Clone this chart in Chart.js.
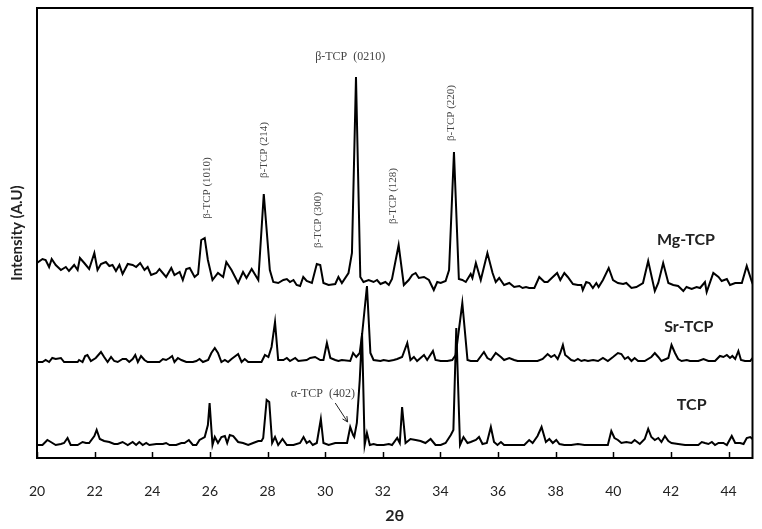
<!DOCTYPE html>
<html>
<head>
<meta charset="utf-8">
<script src="https://cdn.jsdelivr.net/npm/chart.js@4.4.1/dist/chart.umd.min.js"></script>
<style>
  html, body { margin: 0; padding: 0; background: #fff; }
  #wrap { width: 762px; height: 529px; }
</style>
</head>
<body>
<div id="wrap"><canvas id="xrdChart" width="762" height="529"></canvas></div>
<script>
// x in degrees 2θ, y in arbitrary intensity units (stacked offsets already included)
const mgX = [20.0,20.19,20.30,20.42,20.51,20.65,20.83,21.0,21.11,21.29,21.41,21.49,21.64,21.81,21.99,22.10,22.22,22.39,22.51,22.62,22.74,22.86,22.97,23.15,23.32,23.44,23.58,23.73,23.84,23.96,24.14,24.25,24.48,24.66,24.77,24.95,25.06,25.18,25.30,25.47,25.59,25.70,25.82,25.93,26.09,26.28,26.46,26.57,26.75,26.98,27.15,27.27,27.45,27.68,27.87,28.08,28.20,28.37,28.55,28.67,28.78,28.90,29.01,29.13,29.24,29.36,29.54,29.71,29.83,29.94,30.12,30.35,30.46,30.58,30.81,30.93,31.07,31.22,31.33,31.51,31.68,31.80,31.92,32.09,32.21,32.32,32.55,32.73,32.90,33.02,33.14,33.25,33.43,33.60,33.77,33.89,34.01,34.18,34.30,34.47,34.64,34.76,34.88,35.05,35.11,35.23,35.40,35.63,35.81,35.92,36.04,36.21,36.39,36.56,36.74,36.85,36.97,37.08,37.26,37.43,37.61,37.72,37.90,38.05,38.16,38.30,38.42,38.60,38.77,38.89,38.94,39.06,39.17,39.29,39.41,39.49,39.64,39.84,39.99,40.16,40.34,40.45,40.63,40.80,41.03,41.21,41.44,41.56,41.73,41.91,42.08,42.25,42.43,42.54,42.72,42.89,43.01,43.18,43.24,43.47,43.65,43.76,43.94,44.05,44.23,44.46,44.63,44.81,44.87,44.92];
const mgY = [195,199,198,191,199,193,188,191,187,193,188,200,195,189,205,188,194,196,192,193,187,193,184,194,193,191,195,188,191,183,185,189,181,190,183,186,178,189,190,181,184,218,220,198,178,185,181,196,188,175,186,180,189,178,264,188,176,175,178,179,176,178,173,172,181,177,175,194,193,175,173,174,181,175,185,205,381,181,176,178,176,178,174,176,173,179,213,173,178,183,185,180,181,178,168,176,175,177,188,306,179,178,176,184,180,195,178,205,185,176,180,173,175,171,172,170,171,170,170,181,176,176,181,185,178,185,181,174,173,173,168,176,175,170,175,171,178,190,178,175,174,175,170,171,175,197,167,175,195,175,173,172,167,171,169,171,170,176,166,185,181,177,179,173,175,175,192,176,172,175];

const srX = [20.0,20.19,20.30,20.42,20.53,20.65,20.83,20.94,21.23,21.41,21.46,21.58,21.67,21.75,21.87,22.04,22.22,22.33,22.45,22.57,22.68,22.80,22.97,23.09,23.20,23.32,23.41,23.50,23.61,23.73,23.84,24.25,24.37,24.48,24.60,24.69,24.77,24.89,25.01,25.18,25.41,25.53,25.64,25.76,25.94,26.05,26.17,26.28,26.40,26.52,26.63,26.75,26.98,27.10,27.21,27.33,27.62,27.79,27.91,28.03,28.14,28.26,28.37,28.55,28.67,28.78,28.96,29.07,29.36,29.48,29.65,29.83,29.94,30.06,30.18,30.35,30.46,30.58,30.87,30.97,31.08,31.20,31.28,31.45,31.57,31.68,31.92,32.03,32.21,32.38,32.50,32.67,32.85,32.96,33.08,33.19,33.43,33.54,33.74,33.83,34.01,34.24,34.41,34.53,34.76,34.94,35.05,35.28,35.51,35.63,35.75,35.92,36.10,36.21,36.39,36.56,36.68,36.91,37.14,37.37,37.55,37.72,37.84,37.96,38.07,38.16,38.25,38.33,38.42,38.54,38.65,38.77,38.89,39.00,39.12,39.30,39.47,39.64,39.81,39.99,40.16,40.28,40.40,40.51,40.63,40.74,40.86,41.09,41.32,41.44,41.56,41.67,41.91,42.02,42.14,42.25,42.37,42.55,42.66,42.78,42.95,43.13,43.30,43.53,43.70,43.82,43.94,44.05,44.13,44.23,44.34,44.43,44.57,44.75,44.83,44.90];
const srY = [96,96,98,96,100,99,100,96,96,96,98,96,102,103,97,100,106,101,96,101,97,96,99,99,96,99,103,96,102,98,96,96,99,98,100,102,96,100,98,96,96,97,99,96,98,105,110,105,96,98,96,99,104,96,99,96,96,96,103,101,111,136,98,98,100,97,100,97,98,100,101,98,98,115,100,98,97,98,97,105,101,105,123,172,105,98,97,98,97,98,99,101,115,98,101,97,103,98,107,98,97,97,98,103,155,98,97,97,106,100,98,105,101,98,100,98,97,97,97,97,99,104,101,103,99,105,113,103,101,98,97,99,97,98,97,98,97,100,97,101,105,104,99,101,97,100,97,97,101,105,101,97,100,113,105,99,97,98,97,97,97,99,97,97,102,101,103,100,102,99,107,98,97,97,100,105];

const tcpX = [20.0,20.19,20.36,20.48,20.65,20.83,20.94,21.06,21.17,21.41,21.58,21.70,21.81,21.99,22.07,22.18,22.33,22.51,22.68,22.80,22.97,23.15,23.32,23.44,23.55,23.67,23.79,23.90,24.14,24.37,24.48,24.60,24.83,25.01,25.12,25.27,25.41,25.53,25.64,25.82,25.93,25.99,26.09,26.17,26.28,26.40,26.52,26.60,26.69,26.81,26.98,27.15,27.33,27.50,27.68,27.79,27.85,27.97,28.06,28.16,28.26,28.37,28.52,28.67,28.90,29.13,29.25,29.36,29.46,29.57,29.71,29.85,29.94,30.12,30.35,30.52,30.76,30.87,30.97,31.01,31.10,31.20,31.28,31.37,31.45,31.55,31.68,31.80,32.03,32.21,32.32,32.50,32.59,32.67,32.79,32.96,33.14,33.31,33.48,33.66,33.83,34.01,34.18,34.36,34.45,34.55,34.68,34.80,34.94,35.05,35.23,35.34,35.46,35.61,35.75,35.86,35.98,36.10,36.21,36.44,36.68,36.91,37.08,37.20,37.37,37.51,37.66,37.78,37.90,38.02,38.13,38.30,38.54,38.77,39.00,39.47,39.81,39.93,40.04,40.16,40.28,40.45,40.63,40.74,40.92,41.09,41.21,41.32,41.44,41.56,41.67,41.79,41.91,42.02,42.25,42.49,42.95,43.07,43.18,43.30,43.42,43.53,43.65,43.82,43.94,44.11,44.23,44.40,44.52,44.63,44.75,44.87,44.90];
const tcpY = [13,13,18,16,13,14,15,20,13,13,16,15,15,22,28,19,17,16,14,14,16,13,16,13,16,13,15,13,14,14,15,13,13,15,15,18,13,13,18,21,33,55,13,21,15,21,22,15,23,22,16,15,13,15,17,17,20,58,56,15,21,13,19,13,13,15,21,15,17,13,15,39,15,13,15,15,15,31,23,21,35,78,125,13,25,13,14,13,13,14,13,20,15,51,15,19,18,17,15,19,13,13,15,23,28,130,13,21,15,16,18,21,14,15,31,16,13,16,13,13,13,13,18,15,22,31,16,19,15,18,14,13,13,14,13,13,13,27,20,18,15,16,15,18,14,19,29,21,18,20,16,22,17,15,14,13,13,16,15,14,16,13,15,15,13,22,15,15,14,20,21,18,20];

const xTicks = [20, 22, 24, 26, 28, 30, 32, 34, 36, 38, 40, 42, 44];

// peak labels: [text, x, y, vertical?]
const peakLabels = [
  ['β-TCP  (0210)', 30.87, 401, false],
  ['β-TCP (1010)', 25.89, 270, true],
  ['β-TCP (214)', 27.87, 308, true],
  ['β-TCP (300)', 29.76, 238, true],
  ['β-TCP (128)', 32.37, 262, true],
  ['β-TCP (220)', 34.36, 345, true],
  ['α-TCP  (402)', 29.92, 64, false]
];
const seriesNames = [['Mg-TCP', 42.52, 218], ['Sr-TCP', 42.62, 131], ['TCP', 42.72, 53]];

function pts(xs, ys) {
  return xs.map((v, i) => ({ x: v, y: ys[i] }));
}

const extras = {
  id: 'extras',
  afterDatasetsDraw(chart) {
    const { ctx, chartArea: a, scales: { x, y } } = chart;
    ctx.save();
    // frame
    ctx.strokeStyle = '#000';
    ctx.lineWidth = 2;
    ctx.strokeRect(a.left, a.top, a.right - a.left, a.bottom - a.top);
    // inward ticks
    ctx.lineWidth = 1.5;
    xTicks.forEach(t => {
      const px = Math.round(x.getPixelForValue(t)) + 0.5;
      ctx.beginPath();
      ctx.moveTo(px, a.bottom);
      ctx.lineTo(px, a.bottom - 6);
      ctx.stroke();
    });
    // peak labels
    ctx.fillStyle = '#444';
    ctx.textAlign = 'center';
    ctx.textBaseline = 'middle';
    peakLabels.forEach(([txt, vx, vy, vert]) => {
      const px = x.getPixelForValue(vx), py = y.getPixelForValue(vy);
      ctx.font = (vert ? '11px' : '12px') + ' "Liberation Serif", serif';
      ctx.save();
      ctx.translate(px, py);
      if (vert) ctx.rotate(-Math.PI / 2);
      ctx.fillText(txt, 0, 0);
      ctx.restore();
    });
    // arrow for α-TCP
    const x0 = x.getPixelForValue(30.35), y0 = y.getPixelForValue(55);
    const x1 = x.getPixelForValue(30.78), y1 = y.getPixelForValue(36);
    ctx.strokeStyle = '#222';
    ctx.lineWidth = 1;
    ctx.beginPath();
    ctx.moveTo(x0, y0);
    ctx.lineTo(x1, y1);
    const ang = Math.atan2(y1 - y0, x1 - x0);
    ctx.moveTo(x1, y1);
    ctx.lineTo(x1 - 6 * Math.cos(ang - 0.45), y1 - 6 * Math.sin(ang - 0.45));
    ctx.moveTo(x1, y1);
    ctx.lineTo(x1 - 6 * Math.cos(ang + 0.45), y1 - 6 * Math.sin(ang + 0.45));
    ctx.stroke();
    // series names
    ctx.fillStyle = '#222';
    ctx.font = 'bold 16px Lato, sans-serif';
    seriesNames.forEach(([txt, vx, vy]) => {
      ctx.fillText(txt, x.getPixelForValue(vx), y.getPixelForValue(vy));
    });
    ctx.restore();
  }
};

const ctx = document.getElementById('xrdChart').getContext('2d');

const lineStyle = {
  borderColor: '#000',
  borderWidth: 2,
  pointRadius: 0,
  tension: 0,
  fill: false
};

new Chart(ctx, {
  type: 'line',
  data: {
    datasets: [
      { label: 'Mg-TCP', data: pts(mgX, mgY), ...lineStyle },
      { label: 'Sr-TCP', data: pts(srX, srY), ...lineStyle },
      { label: 'TCP', data: pts(tcpX, tcpY), ...lineStyle }
    ]
  },
  options: {
    responsive: false,
    animation: false,
    layout: { padding: { top: 8, right: 9, bottom: 0, left: 0 } },
    plugins: {
      legend: { display: false },
      tooltip: { enabled: false }
    },
    scales: {
      x: {
        type: 'linear',
        min: 20,
        max: 44.83,
        afterFit: s => { s.height = 71; },
        afterBuildTicks: s => { s.ticks = xTicks.map(v => ({ value: v })); },
        grid: { display: false, drawTicks: false },
        border: { display: false },
        ticks: {
          padding: 25,
          color: '#222',
          font: { family: 'Lato', size: 14 }
        },
        title: {
          display: true,
          text: '2θ',
          color: '#222',
          font: { family: 'Lato', size: 16, weight: 'bold' },
          padding: { top: 0, bottom: 4 }
        }
      },
      y: {
        min: 0,
        max: 450,
        afterFit: s => { s.width = 37; },
        grid: { display: false, drawTicks: false },
        border: { display: false },
        ticks: { display: false },
        title: {
          display: true,
          text: 'Intensity (A.U)',
          color: '#222',
          font: { family: 'Lato', size: 15, weight: 'bold' },
          padding: { top: 8, bottom: 0 }
        }
      }
    }
  },
  plugins: [extras]
});
</script>
</body>
</html>
